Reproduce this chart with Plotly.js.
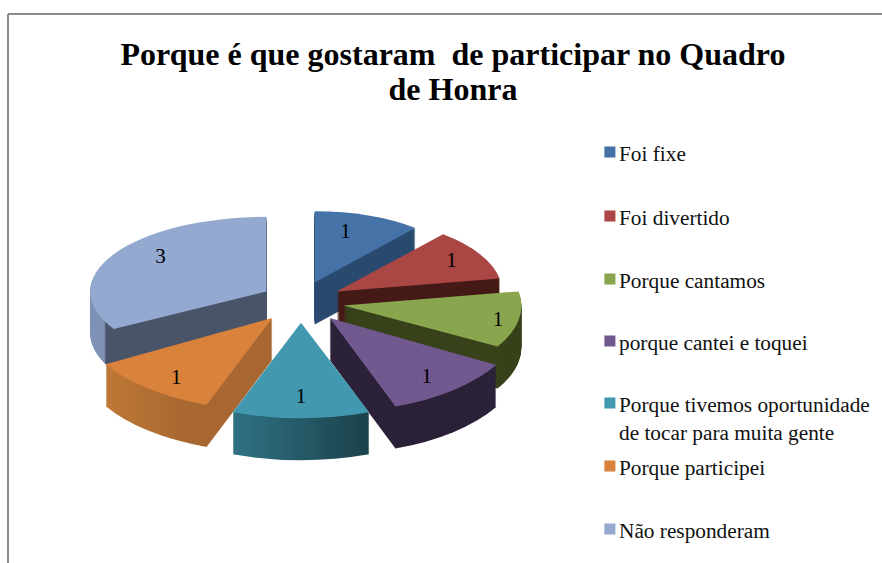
<!DOCTYPE html>
<html lang="pt">
<head>
<meta charset="utf-8">
<script src="https://cdn.plot.ly/plotly-3.0.1.min.js"></script>
<style>html,body{margin:0;padding:0;background:#fff}#chart{width:882px;height:563px}</style>
</head>
<body>
<div id="chart"></div>
<script>
const chartTitle = "Porque é que gostaram \u00a0de participar no Quadro<br>de Honra";
const categories = ["Foi fixe","Foi divertido","Porque cantamos","porque cantei e toquei","Porque tivemos oportunidade<br>de tocar para muita gente","Porque participei","Não responderam"];
const values = [1,1,1,1,1,1,3];
const topColors = ["#4572A7","#AA4643","#89A54E","#71588F","#4198AF","#D9823C","#93A9CF"];
const wallColors = ["#2B4A6F","#451A17","#38421B","#2B2138","#26606F","#A86730","#4A5468"];
const wallGradients = [null,null,null,null,[[0,"#2F7283"],[1,"#1B414B"]],[[0,"#BE7836"],[0.5,"#A86730"],[1,"#A86730"]],[[0,"#7F92B5"],[0.08,"#7F92B5"],[0.09,"#4A5468"],[1,"#4A5468"]]];
// projection styling of the tilted pie (per slice: widen, flatten, nudge)
const sliceKx = [0.88,0.93,1.0,1.08,1.12,1.08,0.99];
const sliceKy = [0.40,0.42,0.46,0.53,0.535,0.52,0.42];
const sliceDx = [0,1,3,3,0,-3,0];
const labelDx = [-9,8,24,5,0,-4,-24];
const labelDy = [3,0,7,8,5,10,-12];
const paintOrder = [0,6,1,2,5,3,4];
const legendCenters = [154,218,281,343,405,468,531];
const legendLines = [1,1,1,1,2,1,1];
const W=882,H=563,CX=301,CY=302,HALF=218,PULL=0.225,K0=0.52,DEPTH=42;

const base = {type:"pie",labels:categories,values:values,sort:false,direction:"clockwise",rotation:0,pull:PULL,
  domain:{x:[(CX-HALF)/W,(CX+HALF)/W],y:[1-(CY+HALF)/H,1-(CY-HALF)/H]},hoverinfo:"skip"};
const traces=[];
for(let d=DEPTH;d>0;d--){
  traces.push(Object.assign({},base,{marker:{colors:wallColors,line:{width:0}},textinfo:"none",showlegend:false}));
}
traces.push(Object.assign({},base,{marker:{colors:topColors,line:{width:0}},textinfo:"value",textposition:"inside",
  insidetextorientation:"horizontal",textfont:{family:"Liberation Serif",size:21,color:"#000"},showlegend:true}));

const layout={width:W,height:H,margin:{l:0,r:0,t:0,b:0,autoexpand:false},paper_bgcolor:"#fff",
  font:{family:"Liberation Serif",color:"#000"},
  title:{text:chartTitle,font:{family:"Liberation Serif",size:32,color:"#000",weight:"bold"},x:453/W,xanchor:"center",y:1-38/H,yanchor:"top",automargin:false},
  legend:{x:579/W,xanchor:"left",y:1-140/H,yanchor:"top",font:{family:"Liberation Serif",size:21.3,color:"#111"},bgcolor:"rgba(0,0,0,0)",traceorder:"normal"},
  shapes:[
    {type:"line",xref:"paper",yref:"paper",x0:8/W,x1:1,y0:1-14/H,y1:1-14/H,line:{color:"#8C8C8C",width:2}},
    {type:"line",xref:"paper",yref:"paper",x0:8/W,x1:8/W,y0:1-14/H,y1:0,line:{color:"#8C8C8C",width:2}}
  ]};

Plotly.newPlot("chart",traces,layout,{displayModeBar:false,staticPlot:true}).then(gd=>{
  const layer=gd.querySelector(".pielayer");
  const svg=layer.ownerSVGElement;
  const NS="http://www.w3.org/2000/svg";
  const defs=svg.querySelector("defs");
  wallGradients.forEach((g,i)=>{
    if(!g)return;
    const lg=document.createElementNS(NS,"linearGradient");
    lg.setAttribute("id","wall"+i);
    g.forEach(s=>{const st=document.createElementNS(NS,"stop");st.setAttribute("offset",s[0]);st.setAttribute("stop-color",s[1]);lg.appendChild(st);});
    defs.appendChild(lg);
  });
  const tracesG=[...layer.querySelectorAll(":scope > .trace")];
  const holder=tracesG[tracesG.length-1];
  const buckets=categories.map(()=>[]);
  tracesG.forEach((t,j)=>{
    const off=DEPTH-j;
    [...t.querySelectorAll(":scope > .slice")].forEach((s,i)=>{
      const p=s.querySelector("path.surface");
      const m=/^M\s*([-\d.e]+)[ ,]+([-\d.e]+)/.exec(p.getAttribute("d"));
      const ax=+m[1],ay=+m[2];
      const tx=ax+sliceDx[i],ty=CY+(ay-CY)*K0+off;
      p.setAttribute("transform",`translate(${tx},${ty}) scale(${sliceKx[i]},${sliceKy[i]}) translate(${-ax},${-ay})`);
      if(off>0&&wallGradients[i])p.style.fill=`url(#wall${i})`;
      s.querySelectorAll("text").forEach(tn=>{
        const q=/translate\(\s*([-\d.e]+)[ ,]+([-\d.e]+)/.exec(tn.getAttribute("transform")||"");
        if(q){
          const nx=tx+sliceKx[i]*(+q[1]-ax)+labelDx[i],ny=ty+sliceKy[i]*(+q[2]-ay)+labelDy[i];
          tn.setAttribute("transform",`translate(${nx},${ny})`);
        }
      });
      buckets[i].push(s);
    });
  });
  paintOrder.forEach(i=>buckets[i].forEach(s=>holder.appendChild(s)));

  const sb=gd.querySelector(".legend .scrollbox");
  if(sb)sb.removeAttribute("clip-path");
  gd.querySelectorAll(".legend .traces").forEach((t,i)=>{
    const half=(legendLines[i]-1)*13.5;
    t.setAttribute("transform",`translate(0,${legendCenters[i]-140-1+half})`);
    const lp=t.querySelector(".legendpoints");
    if(lp)lp.setAttribute("transform",`translate(12.5,${-half-1}) scale(0.92)`);
  });
  const tt=gd.querySelector(".gtitle");
  if(tt){
    tt.setAttribute("transform","translate(0,27)");
    const second=tt.querySelector("tspan.line:nth-of-type(2)")||tt.querySelectorAll("tspan.line")[1];
    if(second)second.setAttribute("dy","35");
  }
});
</script>
</body>
</html>
